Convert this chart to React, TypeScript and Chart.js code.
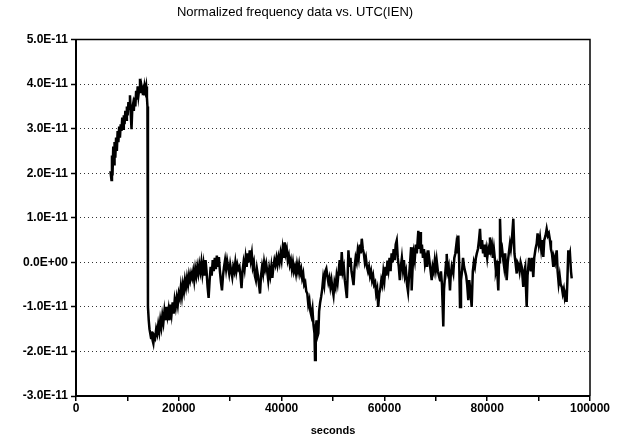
import React, { useEffect, useRef } from "react";
import { Chart, registerables } from "chart.js";

Chart.register(...registerables);

const chartTitle = "Normalized frequency data vs. UTC(IEN)";
const xAxisTitle = "seconds";
const yTickValues = [-3, -2, -1, 0, 1, 2, 3, 4, 5];
const yTickLabels = ["-3.0E-11", "-2.0E-11", "-1.0E-11", "0.0E+00", "1.0E-11", "2.0E-11", "3.0E-11", "4.0E-11", "5.0E-11"];
const xTickLabels = ["0", "20000", "40000", "60000", "80000", "100000"];

// time in seconds
const seconds = [
  6700, 6900, 7000, 7100, 7250, 7400, 7500, 7650, 7800, 7950, 8100, 8250, 8400, 8550, 8700, 8850, 9000, 9150, 9300, 9450,
  9600, 9750, 9900, 10050, 10200, 10350, 10500, 10650, 10800, 10950, 11100, 11250, 11400, 11550, 11700, 11850, 12000, 12150, 12300, 12450,
  12600, 12750, 12900, 13050, 13200, 13350, 13500, 13650, 13800, 13900,
  14000, 14150, 14300, 14450, 14600, 14750, 14900, 15050, 15200, 15400, 15600, 15800, 16000, 16200, 16400, 16600, 16800, 17000, 17200, 17400,
  17600, 17800, 18000, 18200, 18400, 18600, 18800, 19000, 19200, 19400, 19600, 19800, 20000, 20200, 20400, 20600, 20800, 21000, 21200, 21400,
  21600, 21800, 22000, 22200, 22400, 22600, 22800, 23000, 23200, 23400, 23600, 23800, 24000, 24200, 24400, 24600, 24800, 25000, 25200, 25400,
  25600, 25800, 26000, 26200, 26400, 26600, 26800, 27000, 27200, 27400, 27600, 27800, 28000, 28200, 28400, 28600, 28800, 29000, 29200, 29400,
  29600, 29800, 30000, 30200, 30400, 30600, 30800, 31000, 31200, 31400, 31600, 31800, 32000, 32200, 32400, 32600, 32800, 33000, 33200, 33400,
  33600, 33800, 34000, 34200, 34400, 34600, 34800, 35000, 35200, 35400, 35600, 35800, 36000, 36200, 36400, 36600, 36800, 37000, 37200, 37400,
  37600, 37800, 38000, 38200, 38400, 38600, 38800, 39000, 39200, 39400, 39600, 39800, 40000, 40200, 40400, 40600, 40800, 41000, 41200, 41400,
  41600, 41800, 42000, 42200, 42400, 42600, 42800, 43000, 43200, 43400, 43600, 43800, 44000, 44200, 44400, 44600, 44800, 45000, 45200, 45400,
  45600, 45800, 46000, 46200, 46400, 46500, 46650, 46800, 47000, 47150, 47300, 47500, 47700, 47900, 48100, 48300, 48500, 48700, 48900, 49100,
  49300, 49500, 49700, 49900, 50100, 50300, 50500, 50700, 50900, 51100, 51300, 51500, 51700, 51900, 52100, 52300, 52500, 52700, 52850, 53000,
  53200, 53400, 53600, 53800, 54000, 54200, 54400, 54600, 54800, 55000, 55200, 55400, 55600, 55800, 56000, 56200, 56400, 56600, 56800, 57000,
  57200, 57400, 57600, 57800, 58000, 58200, 58400, 58600, 58800, 59000, 59200, 59400, 59600, 59800, 60000, 60200, 60400, 60600, 60800, 61000,
  61200, 61400, 61600, 61800, 62000, 62200, 62400, 62600, 62800, 63000, 63200, 63400, 63600, 63800, 64000, 64200, 64400, 64600, 64800, 65000,
  65200, 65300, 65500, 65700, 65900, 66100, 66300, 66600, 66800, 66930, 67100, 67300, 67500, 67700, 67900, 68100, 68300, 68540, 68800, 69000,
  69200, 69400, 69600, 69800, 70000, 70170, 70400, 70600, 70820, 71000, 71200, 71460, 71600, 71800, 72000, 72120, 72300, 72500, 72760, 72900,
  73100, 73400, 73600, 73800, 74000, 74200, 74380, 74550, 74710, 74900, 75100, 75300, 75500, 75680, 75900, 76100, 76320, 76500, 76700, 76980,
  77200, 77400, 77600, 77800, 77960, 78200, 78400, 78600, 78800, 79000, 79200, 79400, 79570, 79800, 80000, 80200, 80400, 80540, 80700, 80900,
  81100, 81300, 81520, 81700, 81900, 82160, 82300, 82490, 82700, 82900, 83140, 83300, 83500, 83790, 84000, 84200, 84430, 84600, 84800, 85080,
  85300, 85500, 85740, 85900, 86100, 86300, 86500, 86710, 86850, 87020, 87200, 87400, 87680, 87850, 88000, 88150, 88330, 88500, 88700, 88970,
  89150, 89400, 89630, 89800, 90050, 90270, 90500, 90700, 90920, 91100, 91350, 91570, 91800, 92000, 92220, 92400, 92600, 92860, 93000, 93200,
  93520, 93700, 93900, 94100, 94300, 94500, 94700, 94900, 95100, 95300, 95450, 95600, 95780, 95900, 96100, 96300, 96440,
];

// normalized frequency, in units of 1E-11
const freqE11 = [
  2.05, 1.85, 2.4, 1.95, 2.6, 2.2, 2.7, 2.35, 2.8, 2.5, 2.95, 2.7, 3.05, 2.8, 3.1, 2.95, 3.25, 3.0, 3.3, 3.1,
  3.4, 3.2, 3.5, 3.3, 3.6, 3.45, 3.75, 3.35, 2.99, 3.45, 3.55, 3.4, 3.7, 3.5, 3.85, 3.65, 3.95, 3.75, 3.9, 4.12,
  3.8, 3.95, 3.85, 3.9, 3.75, 3.95, 3.85, 3.95, 3.7, 3.5,
  -1.0, -1.3, -1.5, -1.6, -1.7, -1.55, -1.75, -1.82, -1.65, -1.7, -1.5, -1.6, -1.4, -1.55, -1.3, -1.45, -1.2, -1.35, -1.1, -1.3,
  -1.0, -1.2, -1.05, -1.3, -0.95, -1.15, -0.9, -1.15, -0.85, -1.0, -0.8, -0.95, -0.7, -0.8, -0.55, -0.75, -0.5, -0.65, -0.4, -0.55,
  -0.35, -0.5, -0.28, -0.4, -0.25, -0.35, -0.2, -0.4, -0.15, -0.3, -0.1, -0.25, -0.05, -0.2, 0.0, -0.25, -0.05, -0.3, 0.05, -0.2,
  -0.55, -0.8, -0.4, -0.1, -0.3, 0.05, -0.2, 0.1, -0.15, 0.15, -0.1, 0.12, -0.2, -0.45, -0.63, -0.3, -0.1, 0.05, -0.15, 0.04,
  -0.1, -0.25, -0.05, -0.2, -0.33, -0.1, -0.2, 0.0, -0.2, -0.05, -0.15, -0.1, -0.3, -0.58, -0.2, 0.0, -0.15, 0.1, -0.1, 0.2,
  0.0, 0.27, 0.05, 0.2, -0.1, 0.0, -0.3, -0.4, -0.15, -0.3, -0.5, -0.7, -0.3, -0.1, -0.25, 0.0, -0.15, -0.03, -0.2, -0.4,
  -0.15, -0.3, -0.1, -0.35, -0.1, 0.05, -0.05, 0.1, -0.05, 0.12, 0.0, 0.2, 0.05, 0.3, 0.1, 0.45, 0.2, 0.3, 0.05, 0.15,
  -0.05, 0.05, -0.15, 0.0, -0.2, -0.1, -0.25, -0.05, -0.2, -0.05, -0.25, -0.15, -0.35, -0.25, -0.5, -0.45, -0.65, -0.7, -0.95, -0.85,
  -1.1, -1.2, -1.05, -1.4, -1.6, -2.19, -1.5, -1.3, -1.65, -1.59, -1.1, -0.9, -0.77, -0.6, -0.35, -0.5, -0.2, -0.14, -0.3, -0.45,
  -0.35, -0.55, -0.4, -0.6, -0.74, -0.45, -0.55, -0.3, -0.45, -0.2, 0.05, -0.3, 0.23, -0.2, -0.1, -0.4, -0.6, -0.8, -0.3, 0.27,
  -0.1, 0.1, -0.2, -0.35, -0.51, -0.1, 0.1, 0.0, 0.25, 0.1, 0.4, 0.2, 0.53, 0.3, 0.2, 0.0, 0.1, -0.1, -0.2, -0.1,
  -0.3, -0.2, -0.4, -0.3, -0.5, -0.45, -0.7, -0.6, -1.0, -0.7, -0.6, -0.4, -0.5, -0.22, -0.4, -0.1, -0.3, 0.04, -0.15, 0.1,
  -0.2, 0.2, 0.0, 0.3, 0.05, 0.4, 0.49, 0.1, -0.1, -0.4, -0.1, 0.1, -0.15, 0.05, -0.3, -0.2, -0.5, -0.66, -0.3, 0.0,
  0.34, -0.63, -0.1, 0.2, 0.05, 0.4, 0.2, 0.71, 0.3, 0.68, 0.2, 0.4, 0.1, 0.3, -0.03, 0.1, -0.1, 0.27, 0.0, -0.2,
  -0.4, -0.1, -0.2, 0.04, -0.15, 0.04, -0.2, -0.3, -0.4, -0.2, -0.5, -1.44, -0.6, -0.3, 0.0, 0.19, -0.2, -0.1, -0.63, -0.3,
  -0.1, -0.25, 0.1, 0.2, 0.4, 0.2, 0.6, 0.0, -1.0, -0.4, -0.2, 0.1, -0.1, -0.1, -0.3, -0.5, -0.85, -0.4, -0.6, -1.0,
  -0.2, 0.0, -0.1, 0.1, 0.19, 0.3, 0.5, 0.75, 0.3, 0.5, 0.2, 0.4, 0.12, 0.3, 0.1, 0.3, 0.2, 0.56, 0.3, 0.4,
  0.1, 0.3, 0.04, -0.2, -0.1, -0.63, 0.0, 0.98, 0.2, 0.3, 0.04, -0.1, 0.2, -0.4, 0.0, 0.2, 0.42, 0.3, 0.5, 0.98,
  0.2, 0.0, -0.25, 0.0, -0.05, -0.2, 0.0, -0.1, -0.3, -0.55, -0.2, -0.1, -1.0, -0.3, -0.1, 0.1, -0.1, -0.2, 0.1, -0.33,
  0.1, 0.3, 0.42, 0.65, 0.4, 0.56, 0.3, 0.5, 0.12, 0.5, 0.6, 0.75, 0.6, 0.65, 0.49, 0.3, 0.2, -0.1, 0.1, 0.0,
  0.27, -0.2, -0.47, -0.3, -0.5, -0.55, -0.7, -0.6, -0.8, -0.7, -0.89, -0.4, 0.27, 0.1, 0.2, -0.2, -0.36,
];

const FONT = "'Liberation Sans', Arial, Helvetica, sans-serif";

const boxPlugin = {
  id: "plotBox",
  afterDraw(chart: any) {
    const { ctx, chartArea } = chart;
    const { left, top, right, bottom } = chartArea;
    ctx.save();
    ctx.setLineDash([]);
    ctx.strokeStyle = "#000";
    ctx.lineWidth = 1.5;
    ctx.beginPath();
    ctx.moveTo(left, top);
    ctx.lineTo(right, top);
    ctx.lineTo(right, bottom);
    ctx.stroke();
    ctx.lineWidth = 2;
    ctx.beginPath();
    ctx.moveTo(left, top);
    ctx.lineTo(left, bottom);
    ctx.lineTo(right, bottom);
    ctx.stroke();
    ctx.restore();
  },
};

export default function App() {
  const canvasRef = useRef<HTMLCanvasElement | null>(null);

  useEffect(() => {
    document.body.style.margin = "0";
    const canvas = canvasRef.current;
    if (!canvas) return;
    const points = seconds.map((s, i) => ({ x: s, y: freqE11[i] }));
    const chart = new Chart(canvas, {
      type: "line",
      data: {
        datasets: [
          {
            data: points,
            borderColor: "#000",
            borderWidth: 2.5,
            pointRadius: 0,
            tension: 0,
            fill: false,
          },
        ],
      },
      options: {
        animation: false,
        responsive: false,
        layout: { padding: { left: 0, right: 28, top: 0, bottom: 0 } },
        plugins: {
          legend: { display: false },
          tooltip: { enabled: false },
          title: {
            display: true,
            text: chartTitle,
            color: "#000",
            font: { family: FONT, size: 13, weight: "normal" },
            padding: { top: 5, bottom: 19 },
          },
        },
        scales: {
          x: {
            type: "linear",
            min: 0,
            max: 100000,
            border: { display: false },
            grid: {
              drawOnChartArea: false,
              drawTicks: true,
              tickLength: 5,
              color: "#000",
              lineWidth: 1.5,
            },
            ticks: {
              stepSize: 10000,
              autoSkip: false,
              maxRotation: 0,
              padding: 0,
              color: "#000",
              font: { family: FONT, size: 12, weight: "bold" },
              callback: (v: any) => {
                const idx = Number(v) / 20000;
                return Number.isInteger(idx) ? xTickLabels[idx] : "";
              },
            },
            title: {
              display: true,
              text: xAxisTitle,
              color: "#000",
              font: { family: FONT, size: 11, weight: "bold" },
              padding: { top: 4, bottom: 4 },
            },
            afterFit: (scale: any) => {
              scale.height = 46;
            },
          },
          y: {
            type: "linear",
            min: -3,
            max: 5,
            border: { display: false, dash: [1, 3] },
            grid: {
              drawOnChartArea: true,
              drawTicks: true,
              tickLength: 5,
              color: (c: any) => (c.tick && c.tick.value === 5 ? "rgba(0,0,0,0)" : "#333"),
              lineWidth: 1,
              tickBorderDash: [],
              tickColor: "#000",
              tickWidth: 1.5,
            },
            ticks: {
              stepSize: 1,
              padding: 3,
              color: "#000",
              font: { family: FONT, size: 12, weight: "bold" },
              callback: (v: any) => {
                const i = yTickValues.indexOf(Math.round(Number(v)));
                return i >= 0 ? yTickLabels[i] : "";
              },
            },
            afterFit: (scale: any) => {
              scale.width = 76;
            },
          },
        },
      } as any,
      plugins: [boxPlugin],
    });
    return () => chart.destroy();
  }, []);

  return (
    <div style={{ width: 618, height: 442, background: "#fff" }}>
      <canvas ref={canvasRef} width={618} height={442} />
    </div>
  );
}
